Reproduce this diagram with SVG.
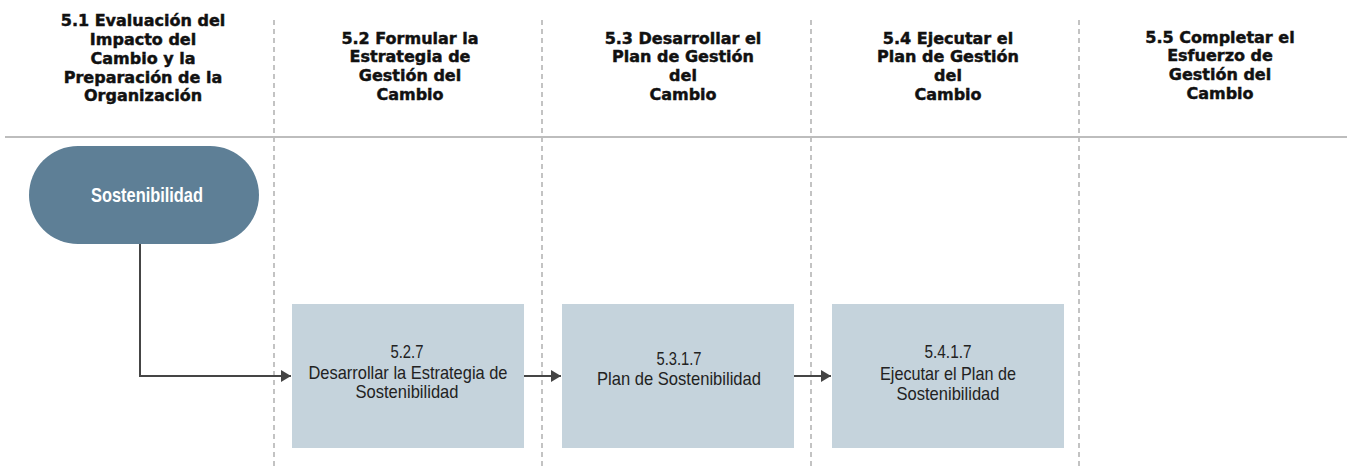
<svg xmlns="http://www.w3.org/2000/svg" width="1347" height="469" viewBox="0 0 1347 469">
<style>
.hdr{font-family:"DejaVu Sans",sans-serif;font-weight:bold;font-size:16px;fill:#111;stroke:#111;stroke-width:0.45;text-anchor:middle}
.lane{stroke:#b0b0b0;stroke-width:1.5;stroke-dasharray:5 4;fill:none}
.box{fill:#c5d3dc}
.bt{font-family:"Liberation Sans",Arial,sans-serif;font-size:19px;fill:#222;text-anchor:middle}
.conn{stroke:#454545;stroke-width:2;fill:none}
</style>
<defs>
<marker id="arr" viewBox="0 0 10 12" refX="10" refY="6" markerWidth="10" markerHeight="13" markerUnits="userSpaceOnUse" orient="auto">
<path d="M0,0 L10,6 L0,12 z" fill="#454545"/>
</marker>
</defs>
<rect width="1347" height="469" fill="#fff"/>
<g id="lanes">
<line class="lane" x1="274" y1="20" x2="274" y2="469"/>
<line class="lane" x1="542" y1="20" x2="542" y2="469"/>
<line class="lane" x1="811" y1="20" x2="811" y2="469"/>
<line class="lane" x1="1079" y1="20" x2="1079" y2="469"/>
<line x1="5" y1="137" x2="1347" y2="137" stroke="#bdbdbd" stroke-width="2"/>
</g>
<g id="headers">
<text class="hdr" x="143" y="26">5.1 Evaluación del</text>
<text class="hdr" x="143" y="45">Impacto del</text>
<text class="hdr" x="143" y="64">Cambio y la</text>
<text class="hdr" x="143" y="83">Preparación de la</text>
<text class="hdr" x="143" y="101">Organización</text>
<text class="hdr" x="410" y="44">5.2 Formular la</text>
<text class="hdr" x="410" y="62">Estrategia de</text>
<text class="hdr" x="410" y="81">Gestión del</text>
<text class="hdr" x="410" y="100">Cambio</text>
<text class="hdr" x="683" y="44">5.3 Desarrollar el</text>
<text class="hdr" x="683" y="62">Plan de Gestión</text>
<text class="hdr" x="683" y="81">del</text>
<text class="hdr" x="683" y="100">Cambio</text>
<text class="hdr" x="948" y="44">5.4 Ejecutar el</text>
<text class="hdr" x="948" y="62">Plan de Gestión</text>
<text class="hdr" x="948" y="81">del</text>
<text class="hdr" x="948" y="100">Cambio</text>
<text class="hdr" x="1220" y="43">5.5 Completar el</text>
<text class="hdr" x="1220" y="61">Esfuerzo de</text>
<text class="hdr" x="1220" y="80">Gestión del</text>
<text class="hdr" x="1220" y="99">Cambio</text>
</g>
<g id="connectors">
<path class="conn" d="M140,244 V376 H291" marker-end="url(#arr)"/>
<path class="conn" d="M524,376 H561" marker-end="url(#arr)"/>
<path class="conn" d="M794,376 H831" marker-end="url(#arr)"/>
</g>
<g id="n-sostenibilidad">
<rect x="29" y="146" width="230" height="98" rx="49" ry="49" fill="#5e7f96"/>
<text x="147" y="202" font-family="Liberation Sans,Arial,sans-serif" font-weight="bold" font-size="21" fill="#fff" text-anchor="middle" textLength="112" lengthAdjust="spacingAndGlyphs">Sostenibilidad</text>
</g>
<g id="n-527">
<rect class="box" x="292" y="304" width="232" height="144"/>
<text class="bt" x="407" y="358" textLength="33" lengthAdjust="spacingAndGlyphs">5.2.7</text>
<text class="bt" x="408" y="379" textLength="199" lengthAdjust="spacingAndGlyphs">Desarrollar la Estrategia de</text>
<text class="bt" x="407" y="398" textLength="103" lengthAdjust="spacingAndGlyphs">Sostenibilidad</text>
</g>
<g id="n-5317">
<rect class="box" x="562" y="304" width="232" height="144"/>
<text class="bt" x="679" y="365" textLength="45" lengthAdjust="spacingAndGlyphs">5.3.1.7</text>
<text class="bt" x="679" y="385" textLength="164" lengthAdjust="spacingAndGlyphs">Plan de Sostenibilidad</text>
</g>
<g id="n-5417">
<rect class="box" x="832" y="304" width="232" height="144"/>
<text class="bt" x="948" y="358" textLength="47" lengthAdjust="spacingAndGlyphs">5.4.1.7</text>
<text class="bt" x="948" y="380" textLength="136" lengthAdjust="spacingAndGlyphs">Ejecutar el Plan de</text>
<text class="bt" x="948" y="400" textLength="103" lengthAdjust="spacingAndGlyphs">Sostenibilidad</text>
</g>
</svg>
